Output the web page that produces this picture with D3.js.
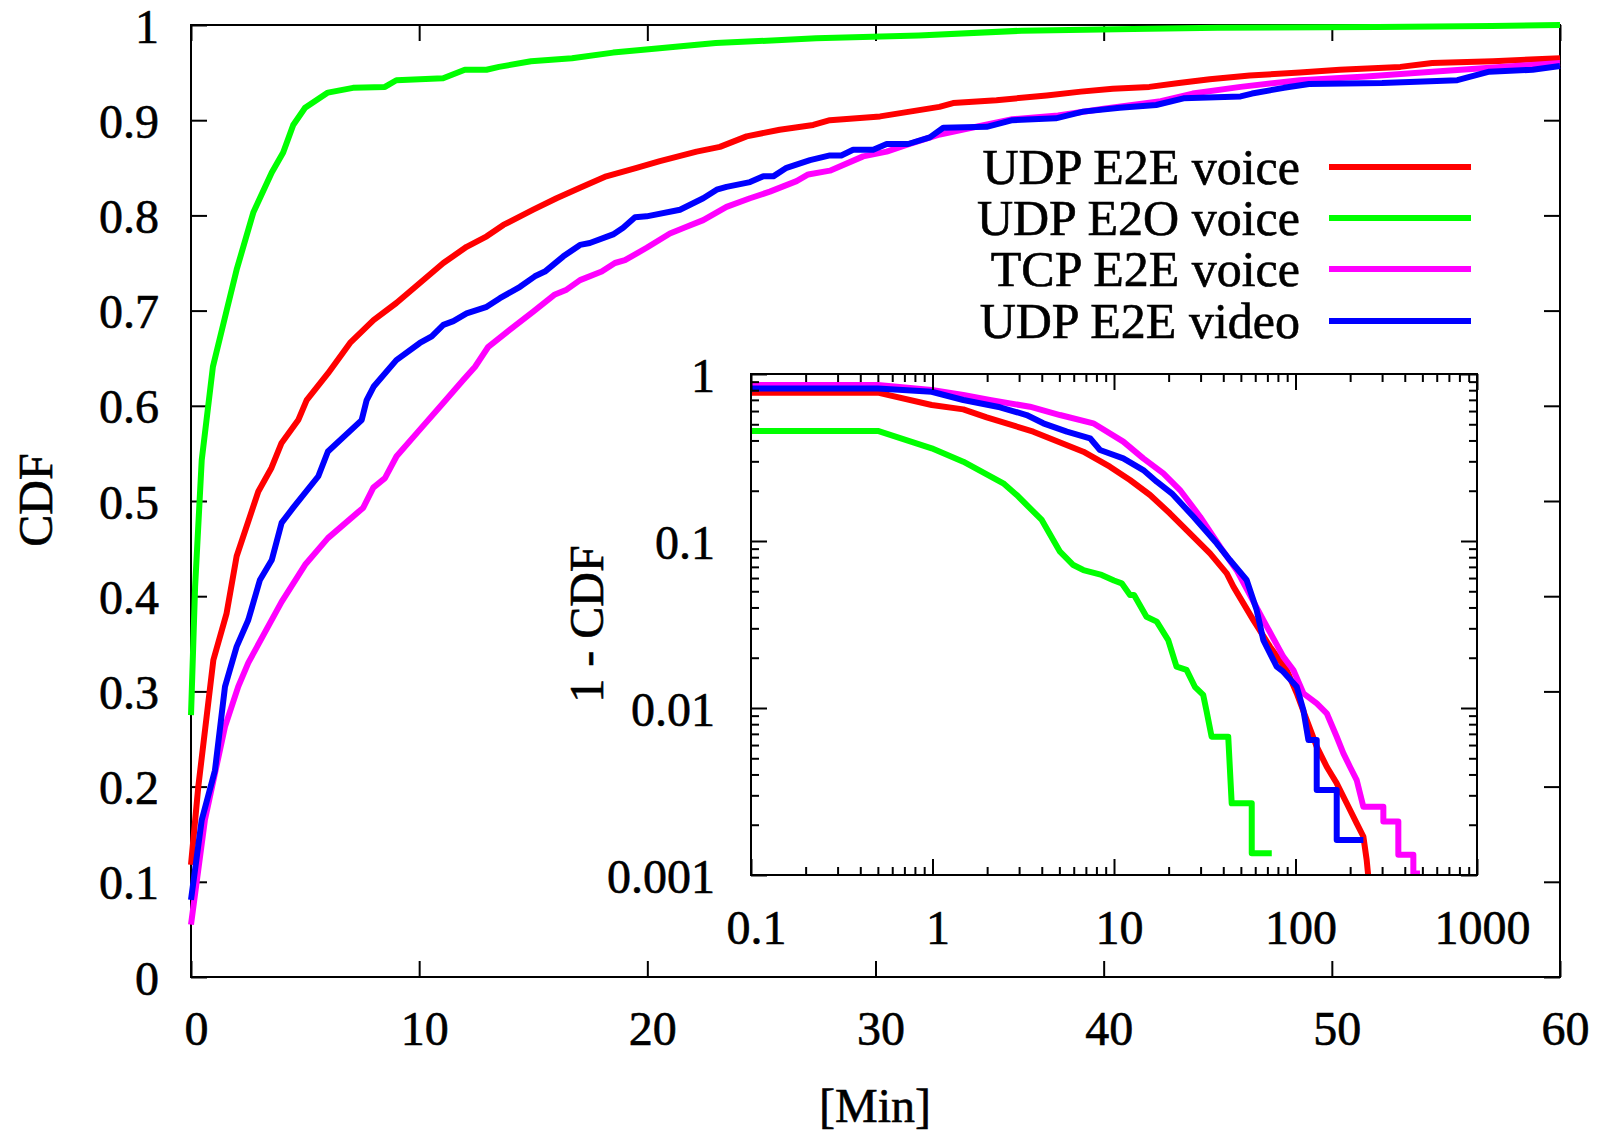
<!DOCTYPE html>
<html>
<head>
<meta charset="utf-8">
<script src="https://cdn.jsdelivr.net/npm/d3@7"></script>
<style>
  body { margin: 0; background: #fff; }
  svg text { font-family: "Liberation Serif", "Times New Roman", serif; fill: #000; stroke: #000; stroke-width: 0.6px; }
</style>
</head>
<body>
<div class="chart"></div>
<script>
var width = 1602,
    height = 1132;

// series names / colours (legend order)
var names = ["UDP E2E voice", "UDP E2O voice", "TCP E2E voice", "UDP E2E video"];
var colors = ["#ff0000", "#00ff00", "#ff00ff", "#0000ff"];

// main plot ticks
var xTicks = [0, 10, 20, 30, 40, 50, 60];
var yTicks = [0, 0.1, 0.2, 0.3, 0.4, 0.5, 0.6, 0.7, 0.8, 0.9, 1];
// inset ticks
var xTicksInset = [0.1, 1, 10, 100, 1000];
var yTicksInset = [0.001, 0.01, 0.1, 1];

// CDF, [minutes, cdf]
var udpVoice = [[0,0.118],[0.32,0.2],[0.98,0.333],[1.56,0.382],[2.0,0.442],[2.95,0.51],[3.53,0.535],[3.97,0.561],[4.7,0.585],[5.07,0.606],[6.0,0.634],[6.97,0.666],[8.0,0.69],[9.0,0.708],[10.03,0.729],[11.06,0.75],[12.08,0.767],[12.96,0.778],[13.69,0.79],[15.0,0.806],[16.02,0.818],[17.05,0.829],[18.2,0.841],[19.53,0.85],[20.55,0.857],[22.16,0.867],[23.18,0.872],[24.35,0.883],[25.8,0.89],[27.27,0.895],[28.0,0.9],[30.2,0.904],[32.8,0.914],[33.4,0.918],[35.3,0.921],[37.5,0.926],[39.0,0.93],[40.4,0.933],[42.0,0.935],[43.3,0.939],[44.65,0.943],[46.4,0.947],[48.6,0.95],[50.35,0.953],[53.0,0.956],[54.4,0.96],[57.06,0.962],[60,0.965]];
var udpE2O = [[0,0.275],[0.18,0.41],[0.47,0.543],[0.96,0.641],[1.56,0.70],[2.0,0.743],[2.73,0.803],[3.54,0.845],[4.04,0.866],[4.48,0.895],[5.0,0.913],[6.0,0.929],[7.1,0.934],[8.5,0.935],[9.0,0.942],[11.05,0.944],[12.0,0.953],[12.95,0.953],[13.5,0.956],[14.9,0.962],[16.7,0.965],[18.5,0.971],[20.3,0.975],[23.0,0.981],[27.4,0.986],[31.9,0.989],[36.4,0.994],[42.0,0.996],[45.0,0.997],[52,0.998],[57,0.999],[60,1.0]];
var tcpVoice = [[0,0.055],[0.61,0.165],[1.49,0.263],[2.07,0.305],[2.51,0.33],[3.97,0.394],[5.0,0.433],[6.0,0.461],[7.55,0.493],[7.99,0.514],[8.5,0.524],[9.01,0.547],[10.03,0.575],[10.91,0.599],[11.93,0.627],[12.45,0.641],[13.03,0.662],[13.98,0.68],[15.0,0.699],[15.95,0.717],[16.46,0.722],[17.05,0.732],[18.0,0.741],[18.58,0.75],[19.02,0.753],[19.97,0.766],[20.99,0.781],[21.72,0.788],[22.45,0.795],[23.47,0.809],[24.5,0.818],[25.37,0.825],[26.54,0.836],[27.05,0.843],[28.0,0.847],[29.46,0.862],[30.49,0.867],[31.36,0.874],[32.82,0.885],[34.0,0.891],[36.0,0.901],[38.0,0.905],[40.0,0.912],[42.5,0.92],[43.9,0.928],[46.0,0.935],[48.6,0.942],[51.5,0.946],[54.4,0.951],[57.4,0.956],[60,0.96]];
var udpVideo = [[0,0.081],[0.47,0.165],[1.05,0.217],[1.49,0.305],[2.0,0.347],[2.51,0.375],[3.02,0.417],[3.54,0.438],[3.97,0.477],[4.48,0.493],[5.58,0.526],[6.0,0.552],[7.48,0.585],[7.7,0.606],[8.0,0.62],[9.0,0.648],[10.03,0.666],[10.55,0.673],[11.06,0.685],[11.5,0.689],[12.08,0.697],[12.96,0.704],[13.54,0.713],[14.42,0.725],[15.07,0.736],[15.51,0.741],[16.32,0.757],[17.05,0.769],[17.48,0.771],[18.5,0.78],[18.94,0.787],[19.46,0.798],[19.97,0.799],[21.43,0.806],[22.45,0.818],[23.04,0.827],[23.47,0.83],[24.5,0.835],[25.08,0.841],[25.52,0.841],[26.1,0.85],[27.13,0.858],[28.0,0.863],[28.5,0.863],[29.02,0.869],[29.9,0.869],[30.49,0.875],[31.43,0.875],[32.38,0.882],[32.97,0.892],[34.87,0.893],[36.0,0.9],[37.9,0.902],[39.1,0.909],[40.7,0.913],[42.3,0.916],[43.5,0.923],[46.0,0.925],[46.5,0.928],[47.9,0.934],[49.0,0.938],[52.2,0.939],[55.5,0.942],[56.9,0.951],[58.8,0.953],[60,0.957]];

// 1 - CDF, [minutes, ccdf] (inset, log-log)
var udpVoiceTail = [[0.1,0.773],[0.5,0.773],[0.99,0.652],[1.478,0.614],[1.99,0.55],[3.59,0.4515],[6.78,0.3427],[9.49,0.2786],[12.25,0.2319],[15.8,0.1886],[20.3,0.1465],[26.2,0.111],[33.8,0.0844],[41.8,0.064],[45.5,0.0533],[58.6,0.0336],[72.4,0.0233],[89.4,0.0169],[101.6,0.01225],[115.3,0.00847],[130.9,0.00587],[148.6,0.00445],[168.7,0.00354],[191.5,0.00269],[217.4,0.00204],[236.5,0.0017],[246.7,0.00123],[251.8,0.00098]];
var udpE2OTail = [[0.1,0.456],[0.5,0.456],[0.99,0.359],[1.478,0.2985],[2.455,0.2215],[2.91,0.1886],[4.0,0.1336],[5.04,0.0863],[5.97,0.0718],[6.78,0.067],[8.55,0.0626],[10.0,0.058],[11.03,0.0558],[12.25,0.0475],[12.9,0.0475],[15.1,0.0352],[17.2,0.0329],[19.9,0.0255],[22.1,0.01767],[25.1,0.0169],[27.9,0.0134],[31.0,0.01197],[32.4,0.0095],[34.5,0.00673],[42.6,0.00673],[44.5,0.00269],[57.4,0.00269],[57.4,0.00135],[74,0.00135]];
var tcpVoiceTail = [[0.1,0.859],[0.5,0.859],[0.99,0.802],[1.478,0.749],[2.07,0.699],[3.44,0.637],[5.04,0.568],[7.69,0.5067],[11.25,0.3934],[14.5,0.3126],[18.7,0.2542],[23.1,0.202],[29.8,0.1398],[38.4,0.0924],[47.4,0.0669],[66.5,0.0336],[85.6,0.0203],[97.3,0.0169],[110.5,0.01225],[130.9,0.01067],[148.6,0.0093],[168.7,0.00673],[183.6,0.00535],[199.5,0.00445],[217.4,0.0037],[236.5,0.00256],[304.8,0.00256],[304.8,0.00209],[368.6,0.00209],[368.6,0.00132],[446,0.00132],[446,0.00102],[485,0.00102]];
var udpVideoTail = [[0.1,0.82],[0.5,0.82],[0.99,0.783],[1.478,0.699],[2.355,0.632],[3.3,0.568],[4.08,0.5067],[5.5,0.4515],[7.38,0.412],[8.37,0.3507],[11.25,0.3126],[14.5,0.266],[17.2,0.2266],[20.8,0.193],[27.4,0.1398],[36.8,0.0969],[43.5,0.0769],[53.8,0.0584],[61.1,0.0386],[66.5,0.0255],[78.8,0.01767],[85.6,0.0165],[101.6,0.0134],[110.5,0.00973],[117.8,0.00643],[130.9,0.00643],[130.9,0.00323],[168.7,0.00323],[168.7,0.00162],[236.5,0.00162]];

var mainSeries = [udpVoice, udpE2O, tcpVoice, udpVideo];
var insetSeries = [udpVoiceTail, udpE2OTail, tcpVoiceTail, udpVideoTail];

var svg = d3.select(".chart").append("svg")
    .attr("width", width)
    .attr("height", height);

var x = d3.scaleLinear().domain([0, 60]).range([191, 1560]);
var y = d3.scaleLinear().domain([0, 1]).range([977, 25]);

function styleAxis(g) {
  g.attr("font-family", null).attr("font-size", null);
  g.select(".domain").remove();
  g.selectAll(".tick line").attr("stroke", "#000").attr("stroke-width", 2);
  g.selectAll("text").style("font-size", "48px");
}

// main axes (ticks inward on all sides)
svg.append("g")
    .attr("transform", "translate(0,977)")
    .call(d3.axisBottom(x).tickValues(xTicks).tickSize(-16).tickPadding(34).tickFormat(d => d))
    .call(styleAxis)
    .selectAll("text").attr("dx", 5);
svg.append("g")
    .attr("transform", "translate(0,25)")
    .call(d3.axisTop(x).tickValues(xTicks).tickSize(-16).tickFormat(""))
    .call(styleAxis);
svg.append("g")
    .attr("transform", "translate(191,0)")
    .call(d3.axisLeft(y).tickValues(yTicks).tickSize(-16).tickPadding(32).tickFormat(d => d))
    .call(styleAxis)
    .selectAll("text").attr("dy", 17);
svg.append("g")
    .attr("transform", "translate(1560,0)")
    .call(d3.axisRight(y).tickValues(yTicks).tickSize(-16).tickFormat(""))
    .call(styleAxis);

svg.append("rect")
    .attr("x", 191).attr("y", 25)
    .attr("width", 1560 - 191).attr("height", 977 - 25)
    .attr("fill", "none").attr("stroke", "#000").attr("stroke-width", 2);

var line = d3.line().x(d => x(d[0])).y(d => y(d[1]));

svg.append("g").selectAll("path")
    .data(mainSeries)
    .enter().append("path")
    .attr("d", line)
    .attr("fill", "none")
    .attr("stroke", (d, i) => colors[i])
    .attr("stroke-width", 6)
    .attr("stroke-linejoin", "round");

// legend
var legY = [167, 218, 269, 321];
var leg = svg.append("g").selectAll("g")
    .data(names)
    .enter().append("g");
leg.append("text")
    .attr("x", 1300)
    .attr("y", (d, i) => legY[i] + 17)
    .attr("text-anchor", "end")
    .style("font-size", "50px")
    .text(d => d);
leg.append("line")
    .attr("x1", 1329).attr("x2", 1471)
    .attr("y1", (d, i) => legY[i]).attr("y2", (d, i) => legY[i])
    .attr("stroke", (d, i) => colors[i])
    .attr("stroke-width", 6);

// axis labels
svg.append("text")
    .attr("transform", "translate(52,500) rotate(-90)")
    .attr("text-anchor", "middle")
    .style("font-size", "48px")
    .text("CDF");
svg.append("text")
    .attr("x", 875).attr("y", 1122)
    .attr("text-anchor", "middle")
    .style("font-size", "48px")
    .text("[Min]");

// ---- inset ----
var xi = d3.scaleLog().domain([0.1, 1000]).range([751, 1477]);
var yi = d3.scaleLog().domain([0.001, 1]).range([875, 374]);

var minorX = [], minorY = [];
xTicksInset.slice(0, -1).forEach(function(d) { d3.range(2, 10).forEach(k => minorX.push(d * k)); });
yTicksInset.slice(0, -1).forEach(function(d) { d3.range(2, 10).forEach(k => minorY.push(d * k)); });

var inset = svg.append("g");
inset.append("rect")
    .attr("x", 751).attr("y", 374)
    .attr("width", 1477 - 751).attr("height", 875 - 374)
    .attr("fill", "#fff");

svg.append("clipPath").attr("id", "insetClip")
  .append("rect")
    .attr("x", 751).attr("y", 374)
    .attr("width", 1477 - 751).attr("height", 875 - 374);

var linei = d3.line().x(d => xi(d[0])).y(d => yi(d[1]));
inset.append("g")
    .attr("clip-path", "url(#insetClip)")
    .selectAll("path")
    .data(insetSeries)
    .enter().append("path")
    .attr("d", linei)
    .attr("fill", "none")
    .attr("stroke", (d, i) => colors[i])
    .attr("stroke-width", 6)
    .attr("stroke-linejoin", "round");

// major ticks
inset.append("g")
    .attr("transform", "translate(0,875)")
    .call(d3.axisBottom(xi).tickValues(xTicksInset).tickSize(-16).tickPadding(35).tickFormat(d => d))
    .call(styleAxis)
    .selectAll("text").attr("dx", 5);
inset.append("g")
    .attr("transform", "translate(0,374)")
    .call(d3.axisTop(xi).tickValues(xTicksInset).tickSize(-16).tickFormat(""))
    .call(styleAxis);
inset.append("g")
    .attr("transform", "translate(751,0)")
    .call(d3.axisLeft(yi).tickValues(yTicksInset).tickSize(-16).tickPadding(36).tickFormat(d => d))
    .call(styleAxis)
    .selectAll("text").attr("dy", 17);
inset.append("g")
    .attr("transform", "translate(1477,0)")
    .call(d3.axisRight(yi).tickValues(yTicksInset).tickSize(-16).tickFormat(""))
    .call(styleAxis);

// minor ticks
inset.append("g").attr("transform", "translate(0,875)")
    .call(d3.axisBottom(xi).tickValues(minorX).tickSize(-8).tickFormat("")).call(styleAxis);
inset.append("g").attr("transform", "translate(0,374)")
    .call(d3.axisTop(xi).tickValues(minorX).tickSize(-8).tickFormat("")).call(styleAxis);
inset.append("g").attr("transform", "translate(751,0)")
    .call(d3.axisLeft(yi).tickValues(minorY).tickSize(-8).tickFormat("")).call(styleAxis);
inset.append("g").attr("transform", "translate(1477,0)")
    .call(d3.axisRight(yi).tickValues(minorY).tickSize(-8).tickFormat("")).call(styleAxis);

inset.append("rect")
    .attr("x", 751).attr("y", 374)
    .attr("width", 1477 - 751).attr("height", 875 - 374)
    .attr("fill", "none").attr("stroke", "#000").attr("stroke-width", 2);

inset.append("text")
    .attr("transform", "translate(603,624) rotate(-90)")
    .attr("text-anchor", "middle")
    .style("font-size", "48px")
    .text("1 - CDF");
</script>
</body>
</html>
